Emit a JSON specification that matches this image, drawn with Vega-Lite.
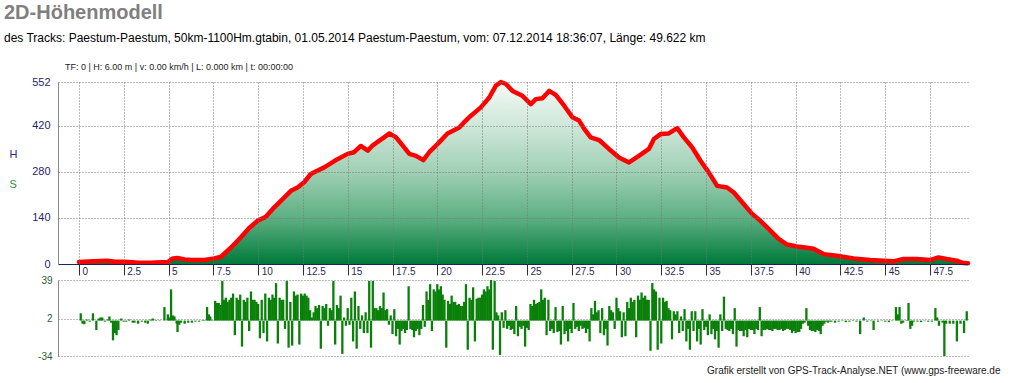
{
"$schema": "https://vega.github.io/schema/vega-lite/v6.json",
"background": "white",
"padding": {"left": 4, "top": 3, "right": 5, "bottom": 3},
"title": {"text": "2D-Höhenmodell", "subtitle": "des Tracks: Paestum-Paestum, 50km-1100Hm.gtabin, 01.05.2014 Paestum-Paestum, vom: 07.12.2014 18:36:07, Länge: 49.622 km", "anchor": "start", "dx": -5, "font": "Liberation Sans", "fontSize": 20, "fontWeight": "bold", "color": "#808080", "subtitleFont": "Liberation Sans", "subtitleFontSize": 12, "subtitleColor": "#000000", "subtitlePadding": 10, "offset": 19},
"datasets": {
"elev": [{"km":0,"h":6},{"km":0.8,"h":8},{"km":1.6,"h":10},{"km":2.0,"h":7},{"km":2.5,"h":7},{"km":3.0,"h":5},{"km":3.3,"h":4},{"km":4.0,"h":4},{"km":4.6,"h":5},{"km":4.96,"h":6},{"km":5.24,"h":17},{"km":5.5,"h":18},{"km":5.9,"h":14},{"km":6.26,"h":12},{"km":7.0,"h":12},{"km":7.56,"h":17},{"km":7.93,"h":22},{"km":8.49,"h":50},{"km":9.04,"h":81},{"km":9.5,"h":109},{"km":9.97,"h":131},{"km":10.43,"h":143},{"km":10.9,"h":172},{"km":11.37,"h":197},{"km":11.83,"h":222},{"km":12.2,"h":232},{"km":12.57,"h":248},{"km":12.94,"h":273},{"km":13.3,"h":283},{"km":13.69,"h":293},{"km":14.05,"h":305},{"km":14.43,"h":318},{"km":14.99,"h":334},{"km":15.36,"h":339},{"km":15.73,"h":358},{"km":16.12,"h":344},{"km":16.4,"h":360},{"km":16.77,"h":374},{"km":17.05,"h":385},{"km":17.33,"h":396},{"km":17.7,"h":384},{"km":18.07,"h":359},{"km":18.44,"h":334},{"km":18.81,"h":328},{"km":19.22,"h":315},{"km":19.55,"h":339},{"km":19.85,"h":355},{"km":20.1,"h":369},{"km":20.57,"h":396},{"km":20.9,"h":405},{"km":21.23,"h":414},{"km":21.5,"h":430},{"km":21.78,"h":445},{"km":22.1,"h":460},{"km":22.43,"h":475},{"km":22.9,"h":505},{"km":23.27,"h":541},{"km":23.55,"h":552},{"km":23.83,"h":546},{"km":24.2,"h":525},{"km":24.75,"h":510},{"km":25.22,"h":485},{"km":25.5,"h":500},{"km":25.87,"h":503},{"km":26.24,"h":525},{"km":26.61,"h":513},{"km":27.08,"h":480},{"km":27.54,"h":445},{"km":27.91,"h":435},{"km":28.2,"h":410},{"km":28.56,"h":384},{"km":29.03,"h":376},{"km":29.58,"h":349},{"km":30.14,"h":323},{"km":30.7,"h":308},{"km":31.25,"h":328},{"km":31.81,"h":349},{"km":32.09,"h":379},{"km":32.46,"h":394},{"km":32.92,"h":396},{"km":33.39,"h":412},{"km":33.76,"h":384},{"km":34.22,"h":354},{"km":34.69,"h":313},{"km":35.15,"h":278},{"km":35.62,"h":237},{"km":36.17,"h":232},{"km":36.55,"h":217},{"km":37.1,"h":182},{"km":37.57,"h":152},{"km":38.03,"h":131},{"km":38.59,"h":101},{"km":39.05,"h":76},{"km":39.52,"h":59},{"km":40.07,"h":53},{"km":40.63,"h":49},{"km":41.0,"h":46},{"km":41.56,"h":30},{"km":42.3,"h":25},{"km":43.23,"h":17},{"km":44.16,"h":12},{"km":44.9,"h":10},{"km":45.46,"h":8},{"km":46.02,"h":15},{"km":46.76,"h":15},{"km":47.5,"h":12},{"km":47.97,"h":20},{"km":48.43,"h":15},{"km":48.99,"h":10},{"km":49.36,"h":3},{"km":49.62,"h":2}],
"slope": [
{"d":0.1,"s":7},{"d":0.2,"s":-3},{"d":0.3,"s":-3.5},{"d":0.45,"s":1},{"d":0.6,"s":-1},{"d":0.78,"s":7},{"d":0.97,"s":-9},{"d":1.1,"s":2},{"d":1.2,"s":3},{"d":1.3,"s":3},{"d":1.45,"s":-1},{"d":1.6,"s":1},{"d":1.7,"s":4},{"d":1.8,"s":-2},{"d":1.9,"s":-19},{"d":2.0,"s":-12},{"d":2.1,"s":-14},{"d":2.2,"s":-9},{"d":2.36,"s":2},{"d":2.5,"s":-1},{"d":2.64,"s":-1},{"d":2.8,"s":1},{"d":3.0,"s":-2},{"d":3.1,"s":-2},{"d":3.3,"s":-3},{"d":3.5,"s":-1},{"d":3.7,"s":-2},{"d":3.84,"s":-3},{"d":4.0,"s":1},{"d":4.12,"s":2},{"d":4.3,"s":0.5},{"d":4.5,"s":-0.5},{"d":4.77,"s":13},{"d":4.96,"s":6},{"d":5.05,"s":3},{"d":5.14,"s":30},{"d":5.25,"s":5},{"d":5.33,"s":4},{"d":5.45,"s":-3},{"d":5.5,"s":-11},{"d":5.6,"s":-4},{"d":5.7,"s":-2},{"d":5.9,"s":-3},{"d":6.1,"s":-2},{"d":6.3,"s":-2},{"d":6.5,"s":-1},{"d":6.7,"s":-1},{"d":6.9,"s":0.5},{"d":7.0,"s":0.5},{"d":7.15,"s":13},{"d":7.25,"s":6},{"d":7.33,"s":4},{"d":7.45,"s":0.5},
{"d":7.6,"s":19},{"d":7.7,"s":17},{"d":7.8,"s":17},{"d":7.9,"s":15},{"d":8.0,"s":38},{"d":8.1,"s":20},{"d":8.2,"s":22},{"d":8.3,"s":18},{"d":8.4,"s":20},{"d":8.5,"s":22},{"d":8.6,"s":26},{"d":8.7,"s":-14},{"d":8.8,"s":22},{"d":8.9,"s":20},{"d":9.0,"s":25},{"d":9.1,"s":-25},{"d":9.2,"s":20},{"d":9.3,"s":18},{"d":9.4,"s":22},{"d":9.5,"s":-10},{"d":9.6,"s":28},{"d":9.7,"s":20},{"d":9.8,"s":20},{"d":9.9,"s":18},{"d":10.0,"s":16},{"d":10.1,"s":-17},{"d":10.2,"s":20},{"d":10.3,"s":-12},{"d":10.4,"s":26},{"d":10.5,"s":-20},{"d":10.6,"s":22},{"d":10.7,"s":20},{"d":10.8,"s":25},{"d":10.9,"s":22},{"d":11.0,"s":36},{"d":11.1,"s":-22},{"d":11.2,"s":22},{"d":11.3,"s":20},{"d":11.4,"s":20},{"d":11.5,"s":-8},{"d":11.6,"s":38},{"d":11.7,"s":-26},{"d":11.8,"s":18},{"d":11.9,"s":-24},{"d":12.0,"s":28},{"d":12.1,"s":24},{"d":12.2,"s":25},{"d":12.3,"s":-23},{"d":12.4,"s":26},{"d":12.5,"s":24},{"d":12.6,"s":26},{"d":12.7,"s":24},{"d":12.8,"s":22},{"d":12.9,"s":10},{"d":13.0,"s":3},{"d":13.1,"s":8},{"d":13.2,"s":14},{"d":13.3,"s":12},{"d":13.4,"s":15},{"d":13.5,"s":-27},{"d":13.6,"s":14},{"d":13.7,"s":12},{"d":13.8,"s":16},{"d":13.9,"s":-5},{"d":14.0,"s":12},{"d":14.1,"s":10},{"d":14.2,"s":38},{"d":14.3,"s":-23},{"d":14.4,"s":15},{"d":14.5,"s":12},{"d":14.6,"s":24},{"d":14.7,"s":-32},{"d":14.8,"s":3},{"d":14.9,"s":-5},{"d":15.0,"s":12},{"d":15.1,"s":-4},{"d":15.2,"s":22},{"d":15.3,"s":-20},{"d":15.4,"s":28},{"d":15.5,"s":-27},{"d":15.6,"s":14},{"d":15.7,"s":-8},{"d":15.8,"s":5},{"d":15.9,"s":-12},
{"d":16.0,"s":8},{"d":16.1,"s":-12},{"d":16.2,"s":38},{"d":16.3,"s":-26},{"d":16.4,"s":38},{"d":16.5,"s":12},{"d":16.6,"s":12},{"d":16.7,"s":10},{"d":16.8,"s":14},{"d":16.9,"s":12},{"d":17.0,"s":27},{"d":17.1,"s":10},{"d":17.2,"s":11},{"d":17.3,"s":-4},{"d":17.4,"s":5},{"d":17.5,"s":-13},{"d":17.6,"s":11},{"d":17.7,"s":-15},{"d":17.8,"s":-8},{"d":17.9,"s":-23},{"d":18.0,"s":-10},{"d":18.1,"s":-8},{"d":18.2,"s":-12},{"d":18.3,"s":-9},{"d":18.4,"s":33},{"d":18.5,"s":-8},{"d":18.6,"s":-9},{"d":18.7,"s":-16},{"d":18.8,"s":-10},{"d":18.9,"s":-8},{"d":19.0,"s":-14},{"d":19.1,"s":-8},{"d":19.2,"s":15},{"d":19.3,"s":-6},{"d":19.4,"s":28},{"d":19.5,"s":20},{"d":19.6,"s":35},{"d":19.7,"s":-10},{"d":19.8,"s":30},{"d":19.9,"s":28},{"d":20.0,"s":35},{"d":20.1,"s":30},{"d":20.2,"s":33},{"d":20.3,"s":25},{"d":20.4,"s":20},{"d":20.5,"s":-26},{"d":20.6,"s":19},{"d":20.7,"s":16},{"d":20.8,"s":24},{"d":20.9,"s":18},{"d":21.0,"s":18},{"d":21.1,"s":15},{"d":21.2,"s":16},{"d":21.3,"s":14},{"d":21.4,"s":14},{"d":21.5,"s":18},{"d":21.6,"s":35},{"d":21.7,"s":-28},{"d":21.8,"s":22},{"d":21.9,"s":20},{"d":22.0,"s":32},{"d":22.1,"s":-20},{"d":22.2,"s":21},{"d":22.3,"s":22},{"d":22.4,"s":22},{"d":22.5,"s":25},{"d":22.6,"s":30},{"d":22.7,"s":28},{"d":22.8,"s":33},{"d":22.9,"s":30},{"d":23.0,"s":39},{"d":23.1,"s":-28},{"d":23.2,"s":38},{"d":23.3,"s":8},{"d":23.4,"s":5},{"d":23.5,"s":-33},{"d":23.6,"s":8},{"d":23.7,"s":-7},{"d":23.8,"s":10},{"d":23.9,"s":-8},{"d":24.0,"s":-5},{"d":24.1,"s":-9},{"d":24.2,"s":-8},{"d":24.3,"s":-13},{"d":24.4,"s":14},{"d":24.5,"s":-15},{"d":24.6,"s":-6},{"d":24.7,"s":-8},{"d":24.8,"s":-5},{"d":24.9,"s":-25},{"d":25.0,"s":-7},{"d":25.1,"s":-9},{"d":25.2,"s":16},{"d":25.3,"s":14},{"d":25.4,"s":20},{"d":25.5,"s":16},{"d":25.6,"s":17},{"d":25.7,"s":18},{"d":25.8,"s":30},{"d":25.9,"s":20},{"d":26.0,"s":22},{"d":26.1,"s":-14},{"d":26.2,"s":20},{"d":26.3,"s":-10},{"d":26.4,"s":-8},{"d":26.5,"s":-12},{"d":26.6,"s":13},{"d":26.7,"s":-11},{"d":26.8,"s":-10},{"d":26.9,"s":-23},{"d":27.0,"s":14},{"d":27.1,"s":-13},{"d":27.2,"s":-10},{"d":27.3,"s":-20},{"d":27.4,"s":-8},{"d":27.5,"s":-12},{"d":27.6,"s":17},{"d":27.7,"s":-8},{"d":27.8,"s":-6},{"d":27.9,"s":-10},{"d":28.0,"s":-5},{"d":28.1,"s":-8},{"d":28.2,"s":-7},{"d":28.3,"s":-12},{"d":28.4,"s":-8},{"d":28.5,"s":-20},{"d":28.6,"s":12},{"d":28.7,"s":6},{"d":28.8,"s":19},{"d":28.9,"s":8},{"d":29.0,"s":10},{"d":29.1,"s":-12},{"d":29.2,"s":12},{"d":29.3,"s":-14},{"d":29.4,"s":-8},{"d":29.5,"s":-24},{"d":29.6,"s":14},{"d":29.7,"s":10},{"d":29.8,"s":8},{"d":29.9,"s":-8},{"d":30.0,"s":22},{"d":30.1,"s":12},{"d":30.2,"s":9},{"d":30.3,"s":-16},{"d":30.4,"s":8},{"d":30.5,"s":-15},{"d":30.6,"s":18},{"d":30.7,"s":12},{"d":30.8,"s":22},{"d":30.9,"s":18},{"d":31.0,"s":20},{"d":31.1,"s":-16},{"d":31.2,"s":24},{"d":31.3,"s":20},{"d":31.4,"s":27},{"d":31.5,"s":22},{"d":31.6,"s":24},{"d":31.7,"s":20},{"d":31.8,"s":20},{"d":31.9,"s":-29},{"d":32.0,"s":36},{"d":32.1,"s":30},{"d":32.2,"s":28},{"d":32.3,"s":-28},{"d":32.4,"s":22},{"d":32.5,"s":-22},{"d":32.6,"s":22},{"d":32.7,"s":18},{"d":32.8,"s":19},{"d":32.9,"s":12},
{"d":33.0,"s":10},{"d":33.1,"s":-18},{"d":33.2,"s":9},{"d":33.3,"s":6},{"d":33.4,"s":9},{"d":33.5,"s":-12},{"d":33.6,"s":4},{"d":33.7,"s":-10},{"d":33.8,"s":11},{"d":33.9,"s":-20},{"d":34.0,"s":-8},{"d":34.1,"s":-28},{"d":34.2,"s":9},{"d":34.3,"s":-10},{"d":34.4,"s":9},{"d":34.5,"s":-20},{"d":34.6,"s":-8},{"d":34.7,"s":-23},{"d":34.8,"s":11},{"d":34.9,"s":-9},{"d":35.0,"s":-6},{"d":35.1,"s":-14},{"d":35.2,"s":6},{"d":35.3,"s":-13},{"d":35.4,"s":-8},{"d":35.5,"s":-18},{"d":35.6,"s":-10},{"d":35.7,"s":-26},{"d":35.8,"s":6},{"d":35.9,"s":-10},{"d":36.0,"s":23},{"d":36.1,"s":-8},{"d":36.2,"s":-9},{"d":36.3,"s":-10},{"d":36.4,"s":-8},{"d":36.5,"s":-13},{"d":36.6,"s":12},{"d":36.7,"s":-25},{"d":36.8,"s":-9},{"d":36.9,"s":-10},{"d":37.0,"s":-10},{"d":37.1,"s":-15},{"d":37.2,"s":-9},{"d":37.3,"s":-16},{"d":37.4,"s":-8},{"d":37.5,"s":-9},{"d":37.6,"s":-9},{"d":37.7,"s":-13},{"d":37.8,"s":-8},{"d":37.9,"s":-9},{"d":38.0,"s":13},{"d":38.1,"s":-15},{"d":38.2,"s":-9},{"d":38.3,"s":-9},{"d":38.4,"s":-8},{"d":38.5,"s":-9},{"d":38.6,"s":-9},{"d":38.7,"s":-10},{"d":38.8,"s":-8},{"d":38.9,"s":-8},{"d":39.0,"s":-9},{"d":39.1,"s":-9},{"d":39.2,"s":-8},{"d":39.3,"s":-10},{"d":39.4,"s":-9},{"d":39.5,"s":-8},{"d":39.6,"s":-8},{"d":39.7,"s":-9},{"d":39.8,"s":-12},{"d":39.9,"s":-10},{"d":40.0,"s":-12},{"d":40.1,"s":-11},{"d":40.2,"s":-11},{"d":40.3,"s":-8},{"d":40.4,"s":-3},{"d":40.5,"s":-2},{"d":40.6,"s":12},{"d":40.7,"s":-5},{"d":40.8,"s":-9},{"d":40.9,"s":-10},{"d":41.0,"s":-10},{"d":41.1,"s":-11},{"d":41.2,"s":-9},{"d":41.3,"s":-10},{"d":41.4,"s":-13},{"d":41.5,"s":-5},{"d":41.6,"s":-3},{"d":41.7,"s":-1},{"d":41.8,"s":-2},{"d":41.9,"s":-1},
{"d":42.0,"s":-1},{"d":42.2,"s":-2},{"d":42.4,"s":-1},{"d":42.6,"s":-0.5},{"d":42.8,"s":-1.5},{"d":43.0,"s":-1},{"d":43.2,"s":0.5},{"d":43.4,"s":-1},{"d":43.6,"s":-13},{"d":43.8,"s":3},{"d":44.0,"s":-1},{"d":44.2,"s":-0.5},{"d":44.35,"s":-9},{"d":44.6,"s":-1},{"d":44.8,"s":-0.5},{"d":45.0,"s":-1},{"d":45.2,"s":-1.5},{"d":45.4,"s":-0.5},{"d":45.6,"s":13},{"d":45.7,"s":6},{"d":45.8,"s":13},{"d":45.9,"s":-3},{"d":46.0,"s":-2},{"d":46.2,"s":0.5},{"d":46.3,"s":17},{"d":46.4,"s":-8},{"d":46.5,"s":-5},{"d":46.6,"s":-1},{"d":46.8,"s":-1},{"d":47.0,"s":-1.5},{"d":47.2,"s":-0.5},{"d":47.4,"s":-1},{"d":47.6,"s":-1},{"d":47.8,"s":12},{"d":47.9,"s":3},{"d":48.0,"s":-5},{"d":48.2,"s":-2},{"d":48.3,"s":-34},{"d":48.4,"s":-3},{"d":48.6,"s":-3},{"d":48.8,"s":-3},{"d":49.0,"s":-20},{"d":49.2,"s":-3},{"d":49.4,"s":-12},{"d":49.55,"s":9}
]
},
"bounds": "flush",
"spacing": 16,
"vconcat": [
{
"width": 910,
"height": 182,
"title": {"text": "TF: 0 | H: 6.00 m | v: 0.00 km/h | L: 0.000 km | t: 00:00:00", "anchor": "start", "font": "Liberation Sans", "fontSize": 9, "fontWeight": "normal", "color": "#222222", "dx": 56, "offset": 4},
"data": {"name": "elev"},
"encoding": {
"x": {"field": "km", "type": "quantitative", "scale": {"domain": [-1.17, 49.62], "nice": false, "zero": false},
"axis": {"values": [0,2.5,5,7.5,10,12.5,15,17.5,20,22.5,25,27.5,30,32.5,35,37.5,40,42.5,45,47.5], "format": ".1~f", "labelOverlap": false, "title": null, "grid": true, "gridDash": [1,2], "gridColor": "#777777", "gridOpacity": 1, "domainColor": "#22225a", "domainWidth": 1, "tickColor": "#333333", "tickSize": 11, "labelAlign": "left", "labelBaseline": "top", "labelPadding": -9, "labelOffset": 3, "labelFont": "Liberation Sans", "labelFontSize": 10, "labelColor": "#2b2b55", "zindex": 1}},
"y": {"field": "h", "type": "quantitative", "scale": {"domain": [0, 552], "nice": false},
"axis": {"values": [0,140,280,420,552], "labelOverlap": false, "grid": true, "gridDash": [1,2], "gridColor": "#777777", "gridOpacity": 1, "domainColor": "#8a8a8a", "ticks": false, "labelPadding": 8, "labelFont": "Liberation Sans", "labelFontSize": 11, "labelColor": "#1f1f6e", "title": "H", "titleAngle": 0, "titleColor": "#2a2a8a", "titleFont": "Liberation Sans", "titleFontWeight": "normal", "titleFontSize": 11, "titleX": -49, "titleY": 72, "titleAlign": "left", "titleBaseline": "middle", "zindex": 1}}
},
"layer": [
{"mark": {"type": "area", "color": {"gradient": "linear", "x1": 0, "y1": 0, "x2": 0, "y2": 1, "stops": [{"offset": 0, "color": "#f4faf6"}, {"offset": 0.25, "color": "#cde6d8"}, {"offset": 0.5, "color": "#9fcfb4"}, {"offset": 0.75, "color": "#5caf82"}, {"offset": 1, "color": "#007a3a"}]}}},
{"mark": {"type": "line", "color": "#ff0000", "strokeWidth": 4.5, "strokeJoin": "round", "strokeCap": "round"}}
]
},
{
"width": 910,
"height": 76,
"data": {"name": "slope"},
"layer": [
{"mark": {"type": "rule", "color": "#0a800a", "strokeWidth": 2.3},
"encoding": {
"x": {"field": "d", "type": "quantitative", "scale": {"domain": [-1.17, 49.62], "nice": false, "zero": false},
"axis": {"domain": false, "ticks": false, "labels": false, "grid": false, "title": "Grafik erstellt von GPS-Track-Analyse.NET (www.gps-freeware.de", "titleAnchor": "end", "titleAlign": "right", "titleX": 942, "titleFont": "Liberation Sans", "titleFontSize": 10, "titleFontWeight": "normal", "titleColor": "#222222", "titlePadding": 9}},
"y": {"field": "s", "type": "quantitative", "scale": {"domain": [-34, 39], "nice": false, "zero": false},
"axis": {"values": [-34, 2, 39], "labelExpr": "'' + datum.value", "labelOverlap": false, "grid": true, "gridDash": [1,2], "gridColor": "#777777", "gridOpacity": 1, "domainColor": "#8a8a8a", "ticks": false, "labelPadding": 6, "labelFont": "Liberation Sans", "labelFontSize": 10, "labelColor": "#2f5f2f", "title": "S", "titleAngle": 0, "titleColor": "#2e8b3e", "titleFont": "Liberation Sans", "titleFontWeight": "normal", "titleFontSize": 11, "titleX": -49, "titleY": -96, "titleAlign": "left", "titleBaseline": "middle"}},
"y2": {"datum": 0}
}}
]
}
],
"config": {"view": {"stroke": null}, "font": "Liberation Sans"}
}
